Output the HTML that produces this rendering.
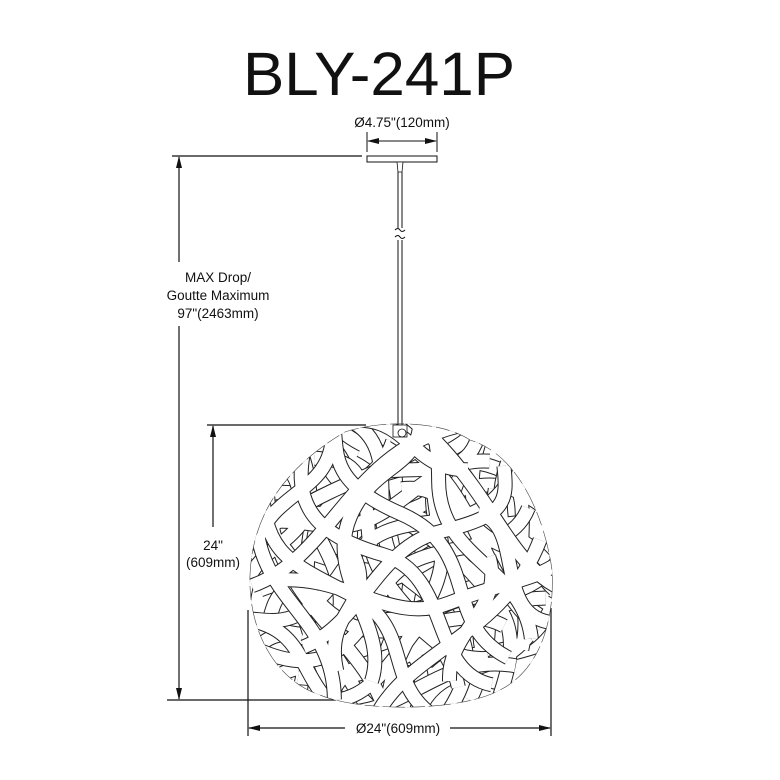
<!DOCTYPE html>
<html><head><meta charset="utf-8"><style>
html,body{margin:0;padding:0;background:#fff;}
svg{display:block;}
text{font-family:"Liberation Sans",Arial,sans-serif;fill:#111;}
</style></head><body>
<svg width="780" height="780" viewBox="0 0 780 780" xmlns="http://www.w3.org/2000/svg">
<defs>
<marker id="a" markerWidth="12" markerHeight="6" refX="11" refY="3" orient="auto" markerUnits="userSpaceOnUse">
<path d="M0,0 L12,3 L0,6 Z" fill="#111"/></marker>
<clipPath id="ball"><path d="M345,432 C380,420 440,420 470,440 C520,455 545,520 552,570 C555,620 540,670 500,690 C460,712 360,712 320,695 C275,680 248,630 250,575 C252,520 280,470 345,432 Z"/></clipPath>
<g id="P">
<path d="M250,560 C300,520 360,600 420,560 S520,520 560,580"/>
<path d="M260,620 C320,660 380,600 440,650 S520,690 560,640"/>
<path d="M300,450 C330,520 280,600 330,690"/>
<path d="M480,440 C450,520 520,600 470,700"/>
<path d="M340,430 C400,480 460,440 520,480"/>
<path d="M250,500 C320,470 340,540 410,510 S500,470 560,520"/>
<path d="M270,680 C330,640 420,700 540,660"/>
<path d="M400,440 C380,500 430,560 400,620 S380,690 410,710"/>
<path d="M260,590 C330,560 360,640 440,600 S530,600 560,610"/>
<path d="M330,470 C360,520 440,500 470,560 S450,650 520,690"/>
<path d="M470,460 C430,520 360,520 340,580 S300,660 300,700"/>
<path d="M255,650 C300,600 350,690 390,660"/>
<path d="M430,680 C470,630 520,680 555,600"/>
<path d="M360,450 C420,480 380,530 450,540"/>
<path d="M510,470 C540,520 500,560 545,600"/>
<path d="M280,530 C320,560 300,620 350,640"/>
</g>
<g id="R"><use href="#P" stroke="#222" stroke-width="15"/><use href="#P" stroke="#fff" stroke-width="13"/></g>
</defs>
<text x="243" y="95" font-size="61" textLength="272" lengthAdjust="spacingAndGlyphs">BLY-241P</text>

<text x="402" y="127" font-size="13.5" text-anchor="middle">Ø4.75"(120mm)</text>
<line x1="367" y1="132" x2="367" y2="152" stroke="#111" stroke-width="1"/>
<line x1="437" y1="132" x2="437" y2="152" stroke="#111" stroke-width="1"/>
<line x1="402" y1="141" x2="368" y2="141" stroke="#111" marker-end="url(#a)"/>
<line x1="402" y1="141" x2="436" y2="141" stroke="#111" marker-end="url(#a)"/>
<rect x="367" y="156" width="70" height="6" fill="#fff" stroke="#111" stroke-width="1"/>
<path d="M397,162 L403,162 L402,172 L398,172 Z" fill="#fff" stroke="#111" stroke-width="0.8"/>
<line x1="398" y1="172" x2="398" y2="425" stroke="#111" stroke-width="1"/>
<line x1="402" y1="172" x2="402" y2="425" stroke="#111" stroke-width="1"/>
<rect x="396" y="228" width="8" height="12" fill="#fff"/>
<path d="M395,230 q3,-3 5,0 t5,0 M395,237 q3,-3 5,0 t5,0" fill="none" stroke="#111" stroke-width="1"/>

<line x1="172" y1="156" x2="362" y2="156" stroke="#111" stroke-width="1.2"/>
<line x1="179" y1="262" x2="179" y2="157" stroke="#111" stroke-width="1.2" marker-end="url(#a)"/>
<line x1="179" y1="326" x2="179" y2="699" stroke="#111" stroke-width="1.2" marker-end="url(#a)"/>
<line x1="167" y1="700" x2="343" y2="700" stroke="#111" stroke-width="1.2"/>
<text x="218" y="282" font-size="13.5" text-anchor="middle">MAX Drop/</text>
<text x="218" y="300" font-size="13.5" text-anchor="middle">Goutte Maximum</text>
<text x="218" y="318" font-size="13.5" text-anchor="middle">97"(2463mm)</text>

<line x1="207" y1="425" x2="366" y2="425" stroke="#111" stroke-width="1.2"/>
<line x1="213" y1="527" x2="213" y2="426" stroke="#111" stroke-width="1.2" marker-end="url(#a)"/>
<text x="213" y="550" font-size="13.5" text-anchor="middle">24"</text>
<text x="213" y="567" font-size="13.5" text-anchor="middle">(609mm)</text>

<line x1="248" y1="610" x2="248" y2="736" stroke="#111" stroke-width="1.2"/>
<line x1="551" y1="608" x2="551" y2="736" stroke="#111" stroke-width="1.2"/>
<line x1="345" y1="728" x2="249" y2="728" stroke="#111" stroke-width="1.2" marker-end="url(#a)"/>
<line x1="450" y1="728" x2="550" y2="728" stroke="#111" stroke-width="1.2" marker-end="url(#a)"/>
<text x="398" y="733" font-size="13.5" text-anchor="middle">Ø24"(609mm)</text>

<g clip-path="url(#ball)" fill="none">
<use href="#R"/>
<use href="#R" transform="rotate(70 400 566)"/>
<use href="#R" transform="rotate(150 400 566) translate(10 -8)"/>
<use href="#R" transform="rotate(230 400 566)"/>
</g>
<path d="M345,432 C380,420 440,420 470,440 C520,455 545,520 552,570 C555,620 540,670 500,690 C460,712 360,712 320,695 C275,680 248,630 250,575 C252,520 280,470 345,432 Z" fill="none" stroke="#444" stroke-width="0.6" stroke-dasharray="14 6 22 4"/>
<rect x="393" y="425" width="14" height="12" fill="#fff" stroke="#111" stroke-width="0.8"/>
<circle cx="402" cy="433" r="4" fill="#fff" stroke="#111" stroke-width="0.8"/>
</svg>
</body></html>
